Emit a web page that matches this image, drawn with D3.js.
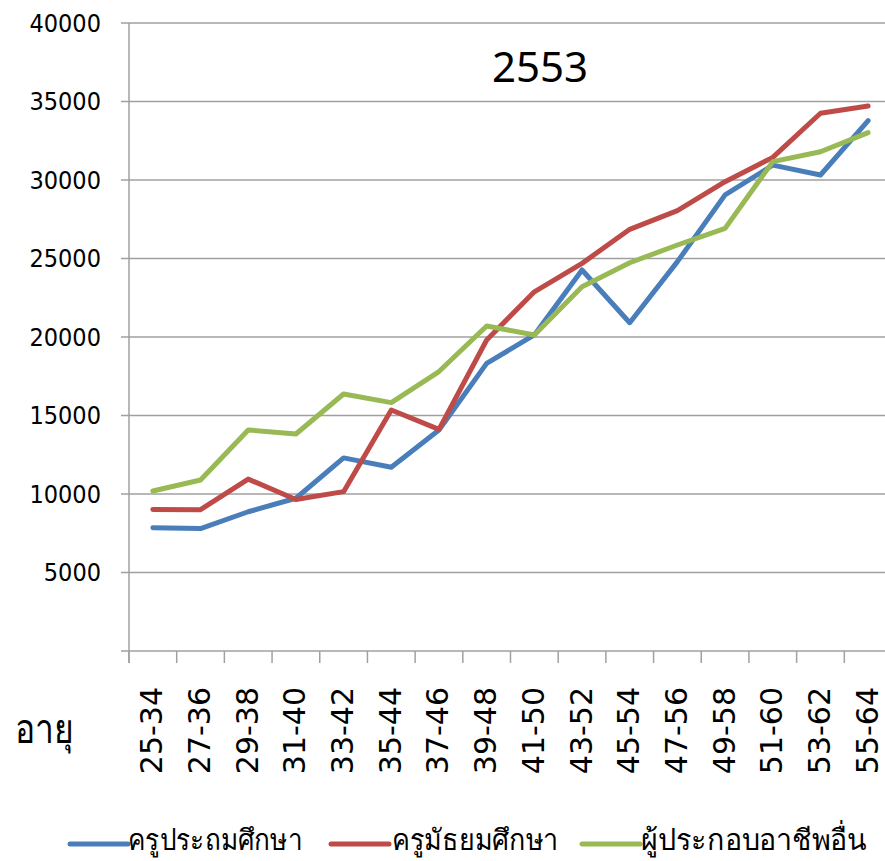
<!DOCTYPE html>
<html>
<head>
<meta charset="utf-8">
<script src="https://cdn.jsdelivr.net/npm/d3@7"></script>
<style>
  html, body { margin: 0; padding: 0; background: #fff; overflow: hidden; }
  svg { display: block; }
</style>
</head>
<body>
<svg id="chart" width="885" height="861"></svg>
<script>
const categories = ["25-34","27-36","29-38","31-40","33-42","35-44","37-46","39-48","41-50","43-52","45-54","47-56","49-58","51-60","53-62","55-64"];
const primaryTeachers = [7850,7800,8870,9730,12300,11700,14080,18320,20130,24270,20910,24800,29050,30950,30320,33780];
const secondaryTeachers = [9020,9000,10950,9650,10150,15350,14120,19810,22880,24690,26860,28050,29890,31440,34250,34710];
const otherOccupations = [10190,10890,14080,13820,16370,15820,17800,20700,20130,23200,24730,25860,26920,31170,31800,33020];
const seriesNames = ["ครูประถมศึกษา","ครูมัธยมศึกษา","ผู้ประกอบอาชีพอื่น"];
const yTicks = [5000,10000,15000,20000,25000,30000,35000,40000];
const titleText = "2553";
const xAxisTitle = "อายุ";

const series = [
  {name: seriesNames[0], values: primaryTeachers, color: "#4a7ebb"},
  {name: seriesNames[1], values: secondaryTeachers, color: "#be4b48"},
  {name: seriesNames[2], values: otherOccupations, color: "#98b954"}
];

const svg = d3.select("#chart");
const plotLeft = 129, plotRight = 892, plotTop = 23, plotBottom = 651;

const x = d3.scaleBand().domain(categories).range([plotLeft, plotRight]).paddingInner(0).paddingOuter(0);
const y = d3.scaleLinear().domain([0, 40000]).range([plotBottom, plotTop]);

// gridlines
svg.append("g").selectAll("line").data(yTicks).join("line")
  .attr("x1", plotLeft - 8).attr("x2", 885)
  .attr("y1", d => y(d)).attr("y2", d => y(d))
  .attr("stroke", "#a0a0a0").attr("stroke-width", 1.5);

// y axis line
svg.append("line").attr("x1", plotLeft).attr("x2", plotLeft).attr("y1", plotTop).attr("y2", plotBottom + 12)
  .attr("stroke", "#a0a0a0").attr("stroke-width", 1.5);
// x axis line
svg.append("line").attr("x1", plotLeft - 8).attr("x2", 885).attr("y1", plotBottom).attr("y2", plotBottom)
  .attr("stroke", "#a0a0a0").attr("stroke-width", 1.5);
// x ticks at band boundaries
const bounds = categories.map(c => x(c)).concat([x(categories[categories.length-1]) + x.bandwidth()]);
svg.append("g").selectAll("line").data(bounds).join("line")
  .attr("x1", d => d).attr("x2", d => d).attr("y1", plotBottom).attr("y2", plotBottom + 12)
  .attr("stroke", "#a0a0a0").attr("stroke-width", 1.5);

// y tick labels
svg.append("g").selectAll("text").data(yTicks).join("text")
  .attr("x", 101).attr("y", d => y(d))
  .attr("text-anchor", "end").attr("dominant-baseline", "central")
  .attr("font-family", "'DejaVu Sans Condensed', 'DejaVu Sans', sans-serif")
  .attr("font-size", 25).attr("fill", "#000")
  .text(d => d);

// x tick labels
svg.append("g").selectAll("text").data(categories).join("text")
  .attr("transform", d => `translate(${x(d) + x.bandwidth()/2 - 1},687) rotate(-90)`)
  .attr("text-anchor", "end").attr("dominant-baseline", "central")
  .attr("font-family", "'DejaVu Sans', sans-serif")
  .attr("font-size", 30).attr("fill", "#000")
  .text(d => d);

// lines
const line = d3.line().x((d, i) => x(categories[i]) + x.bandwidth()/2).y(d => y(d));
svg.append("g").selectAll("path").data(series).join("path")
  .attr("d", d => line(d.values))
  .attr("fill", "none").attr("stroke", d => d.color)
  .attr("stroke-width", 5).attr("stroke-linejoin", "round").attr("stroke-linecap", "round");

// title
svg.append("text").attr("x", 540).attr("y", 82).attr("text-anchor", "middle")
  .attr("font-family", "'Noto Sans', sans-serif").attr("font-size", 42).attr("fill", "#000")
  .text(titleText);

// axis title
svg.append("text").attr("x", 15).attr("y", 743)
  .attr("font-family", "'Noto Sans', sans-serif").attr("font-size", 40).attr("fill", "#000")
  .attr("textLength", 58).attr("lengthAdjust", "spacingAndGlyphs")
  .text(xAxisTitle);

// legend
const legend = [
  {lx: 70, tx: 128, w: 174},
  {lx: 331, tx: 392, w: 166},
  {lx: 582, tx: 641, w: 226}
];
const lg = svg.append("g").selectAll("g").data(series).join("g");
lg.append("line")
  .attr("x1", (d, i) => legend[i].lx).attr("x2", (d, i) => legend[i].lx + 58)
  .attr("y1", 844).attr("y2", 844)
  .attr("stroke", d => d.color).attr("stroke-width", 5).attr("stroke-linecap", "round");
lg.append("text")
  .attr("x", (d, i) => legend[i].tx).attr("y", 850)
  .attr("font-family", "'Noto Sans', sans-serif").attr("font-size", 29).attr("fill", "#000")
  .attr("textLength", (d, i) => legend[i].w).attr("lengthAdjust", "spacingAndGlyphs")
  .text(d => d.name);
</script>
</body>
</html>
